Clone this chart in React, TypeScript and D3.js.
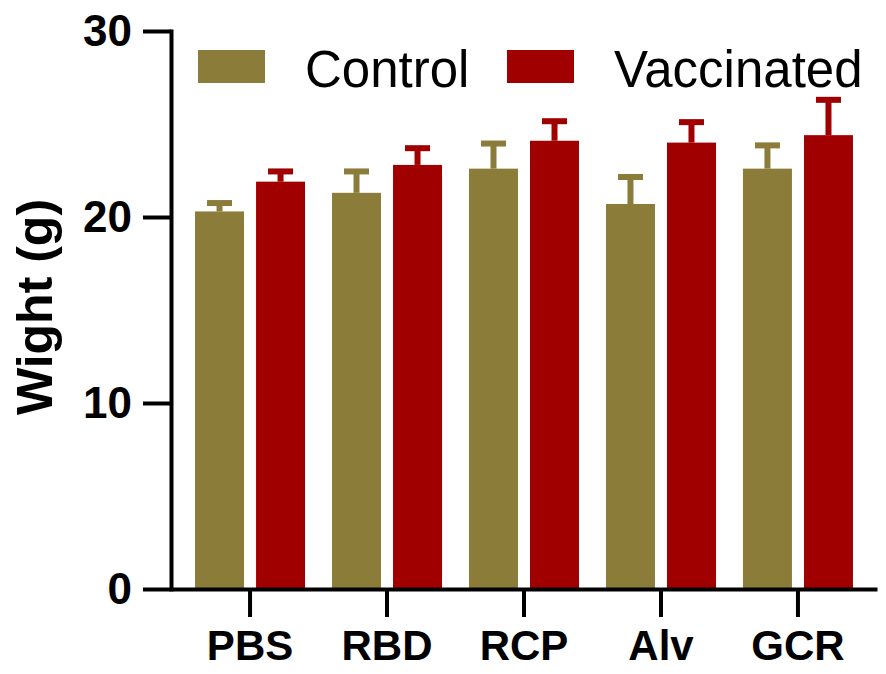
import React, { useEffect, useRef } from 'react';
import * as d3 from 'd3';

const categories = ['PBS', 'RBD', 'RCP', 'Alv', 'GCR'];
const seriesNames = ['Control', 'Vaccinated'];
const controlMean = [20.3, 21.3, 22.6, 20.7, 22.6];
const controlSD = [0.45, 1.15, 1.35, 1.45, 1.25];
const vaccinatedMean = [21.9, 22.8, 24.1, 24.0, 24.4];
const vaccinatedSD = [0.55, 0.9, 1.05, 1.1, 1.9];
const yTicks = [0, 10, 20, 30];
const colors = ['#8b7c39', '#a00000'];

const width = 886;
const height = 674;

export default function App() {
	const ref = useRef<SVGSVGElement>(null);

	useEffect(() => {
		const svg = d3.select(ref.current);
		svg.selectAll('*').remove();

		const font = 'Liberation Sans, Arial, Helvetica, sans-serif';
		const axisX = 171;
		const axisY = 589;

		const y = d3.scaleLinear().domain([0, 30]).range([axisY, 31]);
		const x = d3
			.scaleBand()
			.domain(categories)
			.range([axisX, 877])
			.paddingInner(0)
			.paddingOuter(0.077);
		const inner = d3
			.scaleBand()
			.domain(seriesNames)
			.range([0, x.bandwidth()])
			.paddingInner(0.197)
			.paddingOuter(0.221);

		const flat = categories.flatMap((c, i) => [
			{ cat: c, series: 'Control', mean: controlMean[i], sd: controlSD[i], color: colors[0] },
			{ cat: c, series: 'Vaccinated', mean: vaccinatedMean[i], sd: vaccinatedSD[i], color: colors[1] }
		]);

		// bars
		svg
			.append('g')
			.selectAll('rect')
			.data(flat)
			.enter()
			.append('rect')
			.attr('x', d => x(d.cat)! + inner(d.series)!)
			.attr('y', d => y(d.mean))
			.attr('width', inner.bandwidth())
			.attr('height', d => axisY - y(d.mean))
			.attr('fill', d => d.color);

		// error bars (upper only)
		const capW = 25;
		const err = svg.append('g');
		flat.forEach(d => {
			const cx = x(d.cat)! + inner(d.series)! + inner.bandwidth() / 2;
			err
				.append('line')
				.attr('x1', cx)
				.attr('x2', cx)
				.attr('y1', y(d.mean))
				.attr('y2', y(d.mean + d.sd))
				.attr('stroke', d.color)
				.attr('stroke-width', 6);
			err
				.append('line')
				.attr('x1', cx - capW / 2)
				.attr('x2', cx + capW / 2)
				.attr('y1', y(d.mean + d.sd))
				.attr('y2', y(d.mean + d.sd))
				.attr('stroke', d.color)
				.attr('stroke-width', 6);
		});

		// y axis
		const yAxis = d3.axisLeft(y).tickValues(yTicks).tickSize(28).tickSizeOuter(0).tickPadding(11);
		const gy = svg
			.append('g')
			.attr('transform', `translate(${axisX}, 0)`)
			.call(yAxis);
		gy.select('.domain').attr('stroke-width', 4).attr('stroke-linecap', 'square');
		gy.selectAll('.tick line').attr('stroke-width', 4);
		gy.selectAll('.tick text')
			.attr('font-family', font)
			.attr('font-weight', 'bold')
			.attr('font-size', 44)
			.attr('fill', '#000');

		// x axis
		const xAxis = d3.axisBottom(x).tickSize(28).tickSizeOuter(0).tickPadding(13);
		const gx = svg
			.append('g')
			.attr('transform', `translate(0, ${axisY})`)
			.call(xAxis);
		gx.select('.domain').attr('stroke-width', 4);
		gx.selectAll('.tick line').attr('stroke-width', 4);
		gx.selectAll('.tick text')
			.attr('font-family', font)
			.attr('font-weight', 'bold')
			.attr('font-size', 42)
			.attr('fill', '#000');

		// y title
		svg
			.append('text')
			.attr('transform', `translate(52, 307) rotate(-90)`)
			.attr('text-anchor', 'middle')
			.attr('font-family', font)
			.attr('font-weight', 'bold')
			.attr('font-size', 50)
			.text('Wight (g)');

		// legend
		const legendX = [198, 507];
		seriesNames.forEach((s, i) => {
			svg
				.append('rect')
				.attr('x', legendX[i])
				.attr('y', 50)
				.attr('width', 67)
				.attr('height', 33)
				.attr('fill', colors[i]);
			svg
				.append('text')
				.attr('x', legendX[i] + 107)
				.attr('y', 87)
				.attr('font-family', font)
				.attr('font-size', 51)
				.text(s);
		});
	}, []);

	return (
		<svg
			ref={ref}
			width={width}
			height={height}
			style={{ position: 'absolute', left: 0, top: 0, background: '#fff' }}
		/>
	);
}
